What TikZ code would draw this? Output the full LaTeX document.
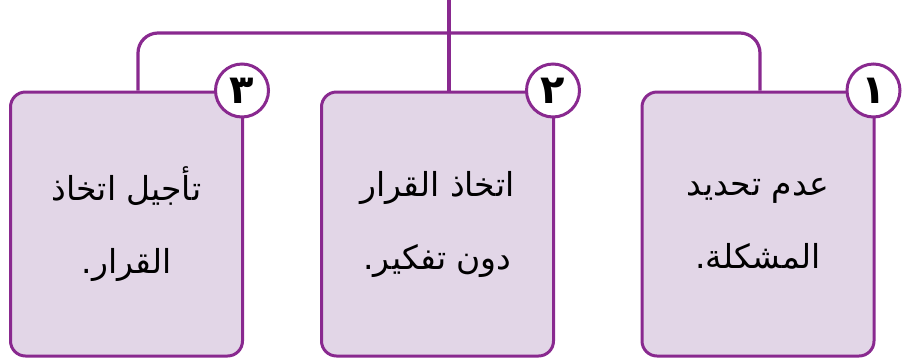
\documentclass[tikz,border=0pt]{standalone}
\usepackage{fontspec}
\newfontfamily\arabicfont[Script=Arabic]{DejaVu Sans}
\TeXXeTstate=1
\usetikzlibrary{positioning}

\definecolor{boxpurple}{RGB}{137,41,143}
\definecolor{boxfill}{RGB}{226,214,231}

\tikzstyle{branch} = [draw,boxpurple,line width=3.2pt,rounded corners=20pt]
\tikzstyle{itembox} = [draw=boxpurple,fill=boxfill,line width=3pt,rounded corners=15pt,minimum width=232pt,minimum height=264pt,align=center,font=\arabicfont\fontsize{33}{73}\selectfont]
\tikzstyle{numcircle} = [circle,draw=boxpurple,fill=white,line width=3pt,minimum size=53pt,inner sep=0pt,font=\arabicfont\bfseries\fontsize{40}{40}\selectfont]

\begin{document}
\begin{tikzpicture}[x=1pt,y=-1pt]
    \useasboundingbox (0,0) rectangle (905,360);

    \foreach \nodename/\x/\num/\first/\second in {
      p3/126.5/٣/تأجيل اتخاذ/القرار.,
      p2/437.5/٢/اتخاذ القرار/دون تفكير.,
      p1/758/١/عدم تحديد/المشكلة.}
    {
      \node[itembox] (\nodename) at (\x,224) {\beginR\first\endR\\\beginR\second\endR};
      \node[numcircle] (n\nodename) at ([xshift=-2pt]\nodename.north east) {\beginR\num\endR};
    }

    %edges or lines
    \coordinate (top) at (449,0);
    \coordinate (hub) at (449,33);
    \draw[branch,sharp corners] (top) -- (p2.north -| top);
    \draw[branch] ([xshift=11.5pt]p3.north) |- (hub) -| ([xshift=2pt]p1.north);
  \end{tikzpicture}
\end{document}
